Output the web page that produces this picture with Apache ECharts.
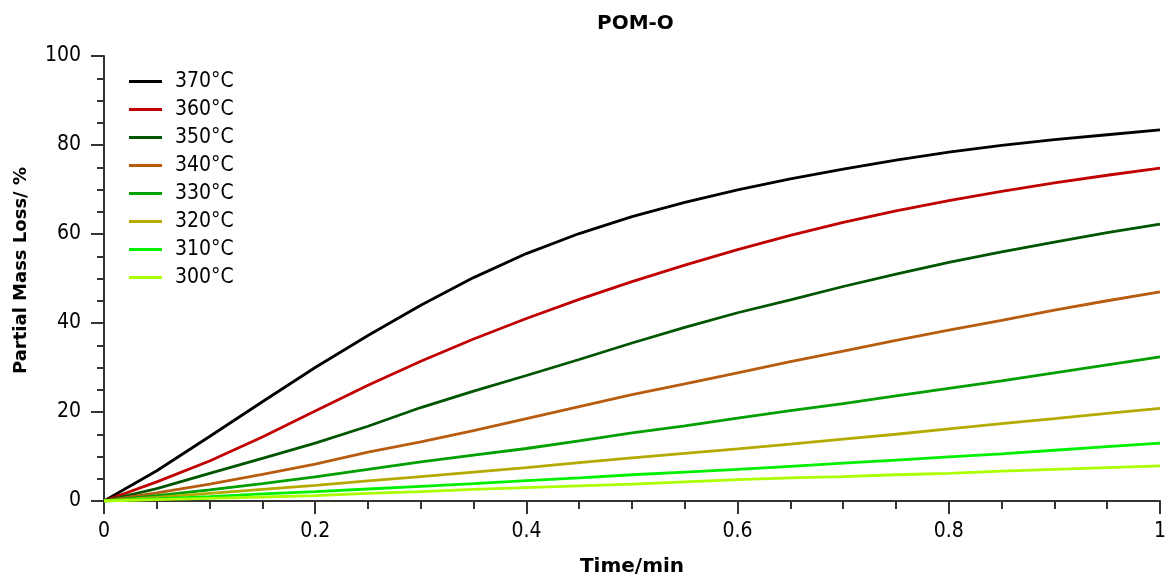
<!DOCTYPE html>
<html>
<head>
<meta charset="utf-8">
<script src="https://cdn.jsdelivr.net/npm/echarts@6/dist/echarts.min.js"></script>
<style>
html,body{margin:0;padding:0;background:#fff;}
#chart{width:1166px;height:581px;}
</style>
</head>
<body>
<div id="chart"></div>
<script>
const time = [0,0.05,0.1,0.15,0.2,0.25,0.3,0.35,0.4,0.45,0.5,0.55,0.6,0.65,0.7,0.75,0.8,0.85,0.9,0.95,1.0];
const seriesNames = ['370°C','360°C','350°C','340°C','330°C','320°C','310°C','300°C'];
const t370 = [0,6.8,14.5,22.3,30.0,37.2,44.0,50.2,55.6,60.1,63.9,67.1,69.9,72.4,74.6,76.6,78.4,79.9,81.2,82.3,83.4];
const t360 = [0,4.3,9.0,14.4,20.2,26.0,31.4,36.4,41.0,45.3,49.3,53.0,56.5,59.7,62.6,65.2,67.5,69.6,71.5,73.2,74.8];
const t350 = [0,2.8,6.2,9.6,13.0,16.8,21.0,24.7,28.2,31.8,35.5,39.0,42.3,45.2,48.2,51.0,53.6,56.0,58.2,60.3,62.2];
const t340 = [0,1.8,3.8,6.0,8.3,11.0,13.3,15.8,18.5,21.2,23.9,26.3,28.8,31.3,33.7,36.1,38.4,40.6,42.9,45.0,47.0];
const t330 = [0,1.2,2.5,3.9,5.4,7.1,8.8,10.3,11.8,13.5,15.3,16.9,18.6,20.3,21.9,23.6,25.3,27.0,28.8,30.6,32.4];
const t320 = [0,0.8,1.7,2.6,3.5,4.5,5.5,6.5,7.5,8.6,9.7,10.7,11.7,12.8,13.9,15.0,16.2,17.4,18.5,19.7,20.8];
const t310 = [0,0.5,1.0,1.6,2.1,2.7,3.3,3.9,4.6,5.2,5.9,6.5,7.1,7.8,8.5,9.2,9.9,10.6,11.4,12.2,13.0];
const t300 = [0,0.3,0.6,0.9,1.2,1.7,2.1,2.6,3.0,3.4,3.8,4.3,4.8,5.2,5.5,5.9,6.2,6.7,7.1,7.5,7.9];
const seriesValues = [t370,t360,t350,t340,t330,t320,t310,t300];
const colors = ['#000000','#c00000','#005500','#b85c10','#00a000','#b4aa00','#00f000','#aaff00'];

const regFont = "'DejaVu Sans Condensed','Liberation Sans',sans-serif";
const boldFont = "'DejaVu Sans',sans-serif";

const chart = echarts.init(document.getElementById('chart'), null, {renderer:'canvas'});
chart.setOption({
  animation:false,
  backgroundColor:'#ffffff',
  title:{
    text:'POM-O', left:592, top:9,
    textStyle:{fontFamily:boldFont,fontWeight:'bold',fontSize:20,color:'#000'}
  },
  legend:{
    orient:'vertical', left:124, top:66,
    icon:'rect', itemWidth:33, itemHeight:3, itemGap:7,
    textStyle:{fontFamily:regFont,fontSize:21,color:'#000',lineHeight:21,padding:[0,0,0,8]},
    data:seriesNames
  },
  grid:{left:104,right:6,top:56,bottom:80,outerBoundsMode:'none'},
  xAxis:{
    type:'value', min:0, max:1, interval:0.2,
    name:'Time/min', nameLocation:'middle', nameGap:56,
    nameTextStyle:{fontFamily:boldFont,fontWeight:'bold',fontSize:20,color:'#000'},
    axisLine:{show:true,lineStyle:{color:'#333',width:2}},
    axisTick:{show:true,length:13,lineStyle:{color:'#333',width:2}},
    minorTick:{show:true,splitNumber:4,length:8,lineStyle:{color:'#333',width:2}},
    splitLine:{show:false},
    axisLabel:{fontFamily:regFont,fontSize:21,color:'#000',margin:20}
  },
  yAxis:{
    type:'value', min:0, max:100, interval:20,
    name:'Partial Mass Loss/ %', nameLocation:'middle', nameGap:74,
    nameTextStyle:{fontFamily:boldFont,fontWeight:'bold',fontSize:18,color:'#000',padding:[0,0,0,16]},
    axisLine:{show:true,lineStyle:{color:'#333',width:2}},
    axisTick:{show:true,length:13,lineStyle:{color:'#333',width:2}},
    minorTick:{show:true,splitNumber:4,length:7,lineStyle:{color:'#333',width:2}},
    splitLine:{show:false},
    axisLabel:{fontFamily:regFont,fontSize:21,color:'#000',margin:23}
  },
  series: seriesNames.map((n,i)=>({
    name:n, type:'line', symbol:'none', color:colors[i],
    lineStyle:{width:2.8,color:colors[i]},
    data: time.map((t,j)=>[t, seriesValues[i][j]])
  }))
});
</script>
</body>
</html>
